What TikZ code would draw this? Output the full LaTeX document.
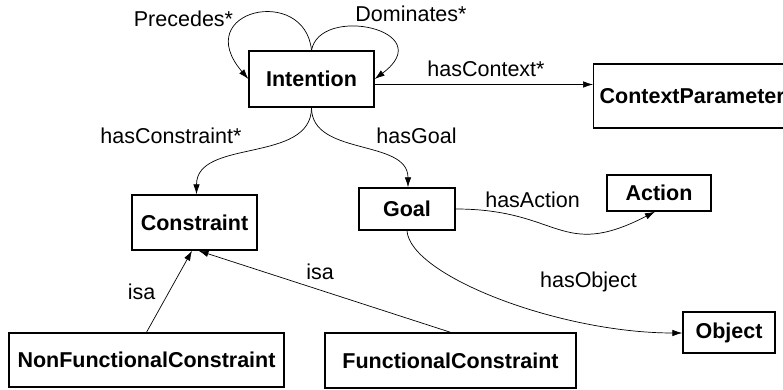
\documentclass[tikz,border=0pt]{standalone}
\usepackage{fontspec}
\setmainfont{Liberation Sans}
\usetikzlibrary{arrows.meta}
\tikzset{
  box/.style={draw, line width=1.4pt, inner sep=0pt, font=\bfseries},
  lbl/.style={anchor=base, inner sep=0pt},
  rel/.style={line width=0.7pt, -{Latex[length=10pt,width=6.5pt]}},
}
\begin{document}
\begin{tikzpicture}[x=1pt,y=1pt]
\fontsize{21.5}{26}\selectfont
\useasboundingbox (0,0) rectangle (783,390);
% boxes
\node[box, minimum width=125pt, minimum height=56pt] (Intention) at (311.5,311) {Intention};
\node[box, minimum width=197pt, minimum height=64pt, anchor=west] (Ctx) at (593,294) {ContextParameter};
\node[box, minimum width=125pt, minimum height=55pt] (Constraint) at (194.5,167.5) {Constraint};
\node[box, minimum width=96pt, minimum height=42pt] (Goal) at (407,181) {Goal};
\node[box, minimum width=104pt, minimum height=36pt] (Action) at (659,197) {Action};
\node[box, minimum width=92pt, minimum height=41pt] (Object) at (729,57.5) {Object};
\node[box, minimum width=275pt, minimum height=54pt] (NFC) at (146.5,30) {NonFunctionalConstraint};
\node[box, minimum width=251pt, minimum height=55pt] (FC) at (450.5,29.5) {FunctionalConstraint};
% labels
\node[lbl] (lPrec) at (183.5,363) {Precedes*};
\node[lbl] (lDom) at (411,368) {Dominates*};
\node[lbl] (lCtx) at (486,313) {hasContext*};
\node[lbl] (lCon) at (171,246) {hasConstraint*};
\node[lbl] (lGoal) at (416.5,246) {hasGoal};
\node[lbl] (lAct) at (532.5,182) {hasAction};
\node[lbl] (lObj) at (588.5,102) {hasObject};
\node[lbl] (lIsa1) at (141.5,90) {isa};
\node[lbl] (lIsa2) at (320,110) {isa};
% connectors
\draw[rel] (Intention.north) .. controls +(-6.5,66) and +(-59,69) .. (Intention.west);
\draw[rel] (Intention.north) .. controls +(8.5,46) and +(66,49) .. (Intention.east);
\draw[rel] ([yshift=-5.5pt]Intention.east) -- ([yshift=11.5pt]Ctx.west);
\draw[rel] (Intention.south) to[out=-90,in=90] ([xshift=2pt]Constraint.north);
\draw[rel] (Intention.south) to[out=-90,in=90] ([xshift=1pt]Goal.north);
\draw[rel] (Goal.east) .. controls +(105,0) and +(-95,-49) .. ([xshift=-4pt]Action.south);
\draw[rel] (Goal.south) .. controls +(3,-45) and +(-123,0) .. ([yshift=-0.5pt]Object.west);
\draw[rel] (NFC.north) -- ([xshift=-2.5pt]Constraint.south);
\draw[rel] (FC.north) -- ([xshift=4pt]Constraint.south);
\end{tikzpicture}
\end{document}
